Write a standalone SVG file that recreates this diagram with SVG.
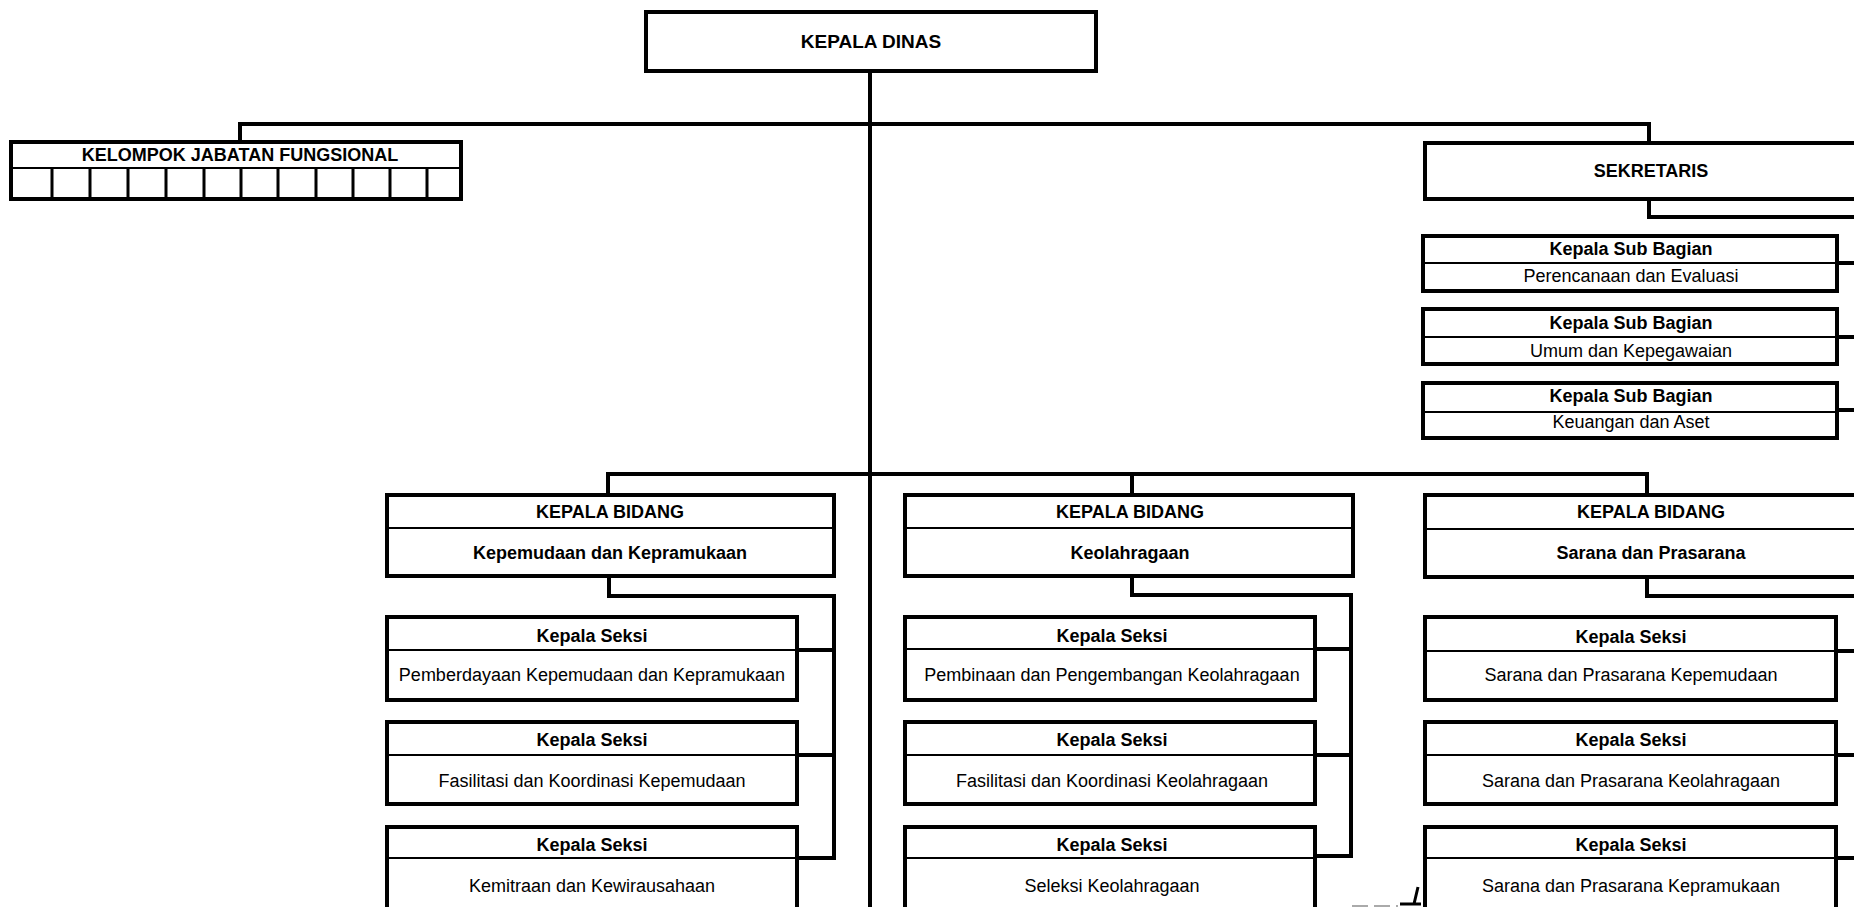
<svg xmlns="http://www.w3.org/2000/svg" width="1854" height="907" viewBox="0 0 1854 907">
  <style>
    .box { fill: #fff; stroke: #000; stroke-width: 4; }
    .sep { stroke: #000; stroke-width: 2; fill: none; }
    .cell { stroke: #000; stroke-width: 3; fill: none; }
    .conn { fill: none; stroke: #000; stroke-width: 4; stroke-linejoin: miter; stroke-linecap: square; }
    .t { font-family: "Liberation Sans", Arial, sans-serif; font-size: 18px; text-anchor: middle; fill: #000; }
    .b { font-weight: bold; }
  </style>
  <rect width="1854" height="907" fill="#fff"/>

  <!-- connectors -->
  <g id="connectors">
    <!-- head of office trunk and top branch -->
    <path class="conn" d="M870 71 V907"/>
    <path class="conn" d="M240 142 V124 H1649 V143"/>
    <!-- secretary to sub-sections -->
    <path class="conn" d="M1649 199 V217 H1862"/>
    <path class="conn" d="M1837 263 H1862 M1837 337 H1862 M1837 410 H1862"/>
    <!-- branch to the three divisions -->
    <path class="conn" d="M608 495 V474 H1647 V495 M1132 474 V495"/>
    <!-- division 1 to sections -->
    <path class="conn" d="M609 576 V596 H834 V858 M797 650 H834 M797 755 H834 M797 858 H834"/>
    <!-- division 2 to sections -->
    <path class="conn" d="M1132 576 V595 H1351 V856 M1315 649 H1351 M1315 755 H1351 M1315 856 H1351"/>
    <!-- division 3 to sections -->
    <path class="conn" d="M1647 577 V596 H1862 M1836 651 H1862 M1836 755 H1862 M1836 858 H1862"/>
    <!-- stray pen mark near bottom -->
    <path d="M1418 887 L1414 904 M1400 904 H1421" fill="none" stroke="#000" stroke-width="3"/>
    <path d="M1352 906 H1398" fill="none" stroke="#aaa" stroke-width="2" stroke-dasharray="16 6"/>
  </g>

  <!-- head of office -->
  <g id="kepala-dinas">
    <rect class="box" x="646" y="12" width="450" height="59"/>
    <text class="t b" x="871" y="48" style="font-size:19px">KEPALA DINAS</text>
  </g>

  <!-- functional group -->
  <g id="kelompok-jabatan-fungsional">
    <rect class="box" x="11" y="142" width="450" height="57"/>
    <line class="sep" x1="11" y1="168" x2="461" y2="168"/>
    <path class="cell" d="M52 168 V199 M90 168 V199 M128 168 V199 M166 168 V199 M204 168 V199 M241 168 V199 M278 168 V199 M316 168 V199 M353 168 V199 M390 168 V199 M427 168 V199"/>
    <text class="t b" x="240" y="161">KELOMPOK JABATAN FUNGSIONAL</text>
  </g>

  <!-- secretary -->
  <g id="sekretaris">
    <rect class="box" x="1425" y="143" width="455" height="56"/>
    <text class="t b" x="1651" y="177">SEKRETARIS</text>
  </g>

  <g id="subbag-perencanaan">
    <rect class="box" x="1423" y="236" width="414" height="55"/>
    <line class="sep" x1="1423" y1="263" x2="1837" y2="263"/>
    <text class="t b" x="1631" y="255">Kepala Sub Bagian</text>
    <text class="t" x="1631" y="282">Perencanaan dan Evaluasi</text>
  </g>

  <g id="subbag-umum">
    <rect class="box" x="1423" y="309" width="414" height="55"/>
    <line class="sep" x1="1423" y1="337" x2="1837" y2="337"/>
    <text class="t b" x="1631" y="329">Kepala Sub Bagian</text>
    <text class="t" x="1631" y="357">Umum dan Kepegawaian</text>
  </g>

  <g id="subbag-keuangan">
    <rect class="box" x="1423" y="383" width="414" height="55"/>
    <line class="sep" x1="1423" y1="412" x2="1837" y2="412"/>
    <text class="t b" x="1631" y="402">Kepala Sub Bagian</text>
    <text class="t" x="1631" y="428">Keuangan dan Aset</text>
  </g>

  <!-- division: youth and scouting -->
  <g id="bidang-kepemudaan">
    <rect class="box" x="387" y="495" width="447" height="81"/>
    <line class="sep" x1="387" y1="528" x2="834" y2="528"/>
    <text class="t b" x="610" y="518">KEPALA BIDANG</text>
    <text class="t b" x="610" y="559">Kepemudaan dan Kepramukaan</text>
  </g>
  <g id="seksi-pemberdayaan">
    <rect class="box" x="387" y="617" width="410" height="83"/>
    <line class="sep" x1="387" y1="650" x2="797" y2="650"/>
    <text class="t b" x="592" y="642">Kepala Seksi</text>
    <text class="t" x="592" y="681">Pemberdayaan Kepemudaan dan Kepramukaan</text>
  </g>
  <g id="seksi-fasilitasi-kepemudaan">
    <rect class="box" x="387" y="722" width="410" height="82"/>
    <line class="sep" x1="387" y1="755" x2="797" y2="755"/>
    <text class="t b" x="592" y="746">Kepala Seksi</text>
    <text class="t" x="592" y="787">Fasilitasi dan Koordinasi Kepemudaan</text>
  </g>
  <g id="seksi-kemitraan">
    <rect class="box" x="387" y="827" width="410" height="90"/>
    <line class="sep" x1="387" y1="858" x2="797" y2="858"/>
    <text class="t b" x="592" y="851">Kepala Seksi</text>
    <text class="t" x="592" y="892">Kemitraan dan Kewirausahaan</text>
  </g>

  <!-- division: sports -->
  <g id="bidang-keolahragaan">
    <rect class="box" x="905" y="495" width="448" height="81"/>
    <line class="sep" x1="905" y1="528" x2="1353" y2="528"/>
    <text class="t b" x="1130" y="518">KEPALA BIDANG</text>
    <text class="t b" x="1130" y="559">Keolahragaan</text>
  </g>
  <g id="seksi-pembinaan">
    <rect class="box" x="905" y="617" width="410" height="83"/>
    <line class="sep" x1="905" y1="649" x2="1315" y2="649"/>
    <text class="t b" x="1112" y="642">Kepala Seksi</text>
    <text class="t" x="1112" y="681">Pembinaan dan Pengembangan Keolahragaan</text>
  </g>
  <g id="seksi-fasilitasi-keolahragaan">
    <rect class="box" x="905" y="722" width="410" height="82"/>
    <line class="sep" x1="905" y1="755" x2="1315" y2="755"/>
    <text class="t b" x="1112" y="746">Kepala Seksi</text>
    <text class="t" x="1112" y="787">Fasilitasi dan Koordinasi Keolahragaan</text>
  </g>
  <g id="seksi-seleksi">
    <rect class="box" x="905" y="827" width="410" height="90"/>
    <line class="sep" x1="905" y1="858" x2="1315" y2="858"/>
    <text class="t b" x="1112" y="851">Kepala Seksi</text>
    <text class="t" x="1112" y="892">Seleksi Keolahragaan</text>
  </g>

  <!-- division: facilities -->
  <g id="bidang-sarana">
    <rect class="box" x="1425" y="495" width="455" height="82"/>
    <line class="sep" x1="1425" y1="529" x2="1880" y2="529"/>
    <text class="t b" x="1651" y="518">KEPALA BIDANG</text>
    <text class="t b" x="1651" y="559">Sarana dan Prasarana</text>
  </g>
  <g id="seksi-sarana-kepemudaan">
    <rect class="box" x="1425" y="617" width="411" height="83"/>
    <line class="sep" x1="1425" y1="651" x2="1836" y2="651"/>
    <text class="t b" x="1631" y="643">Kepala Seksi</text>
    <text class="t" x="1631" y="681">Sarana dan Prasarana Kepemudaan</text>
  </g>
  <g id="seksi-sarana-keolahragaan">
    <rect class="box" x="1425" y="722" width="411" height="82"/>
    <line class="sep" x1="1425" y1="755" x2="1836" y2="755"/>
    <text class="t b" x="1631" y="746">Kepala Seksi</text>
    <text class="t" x="1631" y="787">Sarana dan Prasarana Keolahragaan</text>
  </g>
  <g id="seksi-sarana-kepramukaan">
    <rect class="box" x="1425" y="827" width="411" height="90"/>
    <line class="sep" x1="1425" y1="858" x2="1836" y2="858"/>
    <text class="t b" x="1631" y="851">Kepala Seksi</text>
    <text class="t" x="1631" y="892">Sarana dan Prasarana Kepramukaan</text>
  </g>
</svg>
